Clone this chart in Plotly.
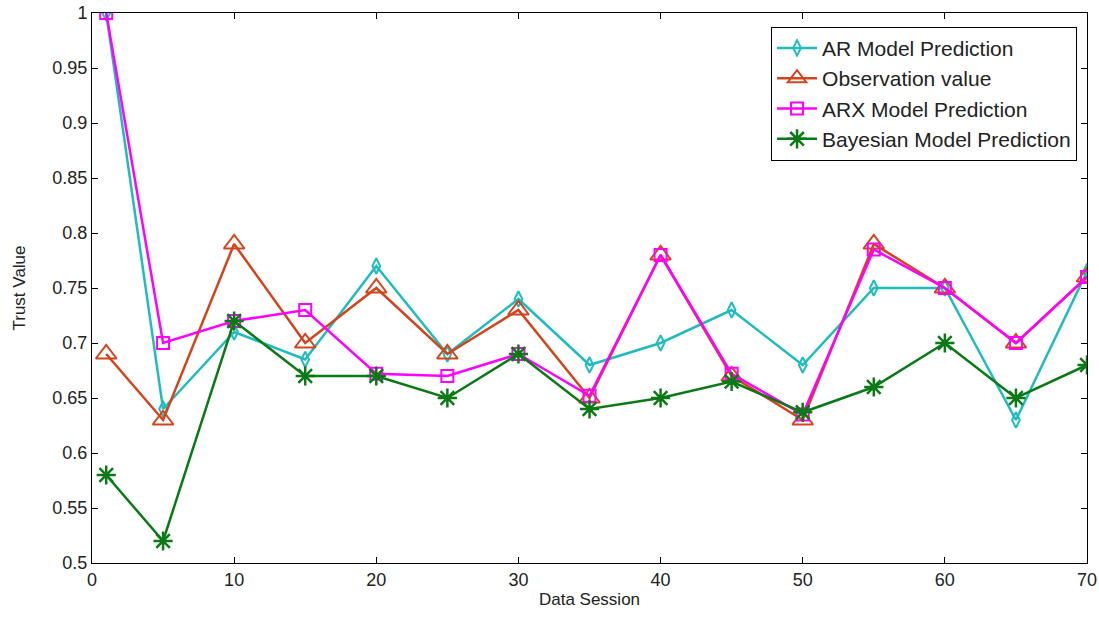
import plotly.graph_objects as go

sessions = [1, 5, 10, 15, 20, 25, 30, 35, 40, 45, 50, 55, 60, 65, 70]
ar_pred = [1.0, 0.64, 0.71, 0.685, 0.77, 0.69, 0.74, 0.68, 0.70, 0.73, 0.68, 0.75, 0.75, 0.63, 0.765]
observation = [0.69, 0.63, 0.79, 0.70, 0.75, 0.69, 0.73, 0.65, 0.78, 0.67, 0.63, 0.79, 0.75, 0.70, 0.76]
arx_pred = [1.0, 0.70, 0.72, 0.73, 0.672, 0.67, 0.69, 0.652, 0.78, 0.672, 0.635, 0.785, 0.75, 0.70, 0.76]
bayes_pred = [0.58, 0.52, 0.72, 0.67, 0.67, 0.65, 0.69, 0.64, 0.65, 0.665, 0.637, 0.66, 0.70, 0.65, 0.68]

x_ticks = [0, 10, 20, 30, 40, 50, 60, 70]
y_ticks = [0.5, 0.55, 0.6, 0.65, 0.7, 0.75, 0.8, 0.85, 0.9, 0.95, 1.0]
y_labels = ["0.5", "0.55", "0.6", "0.65", "0.7", "0.75", "0.8", "0.85", "0.9", "0.95", "1"]

fig = go.Figure()
fig.add_trace(go.Scatter(x=sessions, y=ar_pred, mode="lines+markers", name="AR Model Prediction",
                         line=dict(color="#1fbcbf", width=2.5),
                         marker=dict(symbol="diamond-tall-open", size=11, color="#1fbcbf", line=dict(width=2))))
fig.add_trace(go.Scatter(x=sessions, y=observation, mode="lines+markers", name="Observation value",
                         line=dict(color="#d2451c", width=2.5),
                         marker=dict(symbol="triangle-up-open", size=18, color="#d2451c", line=dict(width=2))))
fig.add_trace(go.Scatter(x=sessions, y=arx_pred, mode="lines+markers", name="ARX Model Prediction",
                         line=dict(color="#ff00ff", width=2.5),
                         marker=dict(symbol="square-open", size=12, color="#ff00ff", line=dict(width=2))))
fig.add_trace(go.Scatter(x=sessions, y=bayes_pred, mode="lines+markers", name="Bayesian Model Prediction",
                         line=dict(color="#0b7a16", width=2.5),
                         marker=dict(symbol="asterisk-open", size=16, color="#0b7a16", line=dict(width=2.5, color="#0b7a16"))))

axis_common = dict(showgrid=False, zeroline=False, showline=True, linecolor="black", linewidth=1,
                   mirror="ticks", ticks="inside", ticklen=6, tickcolor="black", automargin=False,
                   ticklabeloverflow="allow",
                   tickfont=dict(family="Liberation Sans, Arial", size=18, color="#222"))

fig.update_layout(
    width=1099, height=620,
    paper_bgcolor="white", plot_bgcolor="white",
    margin=dict(l=92, r=12, t=13, b=57),
    font=dict(family="Liberation Sans, Arial", size=17, color="#222"),
    xaxis=dict(range=[0, 70], tickvals=x_ticks, title=dict(text="Data Session", standoff=4,
               font=dict(size=17)), **axis_common),
    yaxis=dict(range=[0.5, 1.0], tickvals=y_ticks, ticktext=y_labels,
               title=dict(text="Trust Value", standoff=22, font=dict(size=17)), **axis_common),
    legend=dict(x=0.99, y=0.975, xanchor="right", yanchor="top", bgcolor="white",
                bordercolor="black", borderwidth=1, font=dict(size=21, color="#222"),
                itemwidth=40, tracegroupgap=0),
    showlegend=True,
)

fig.write_html("out.html", config={"displayModeBar": False},
               post_script="document.body.style.margin='0';document.body.style.overflow='hidden';")
